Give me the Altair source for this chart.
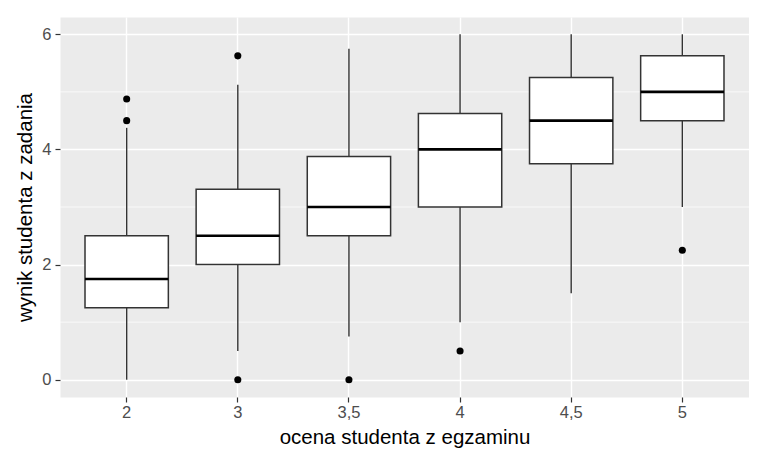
import altair as alt
import pandas as pd

# ---- data ----
categories = ["2", "3", "3,5", "4", "4,5", "5"]
lower = [0.0, 0.5, 0.75, 1.0, 1.5, 3.0]
q1 = [1.25, 2.0, 2.5, 3.0, 3.75, 4.5]
median = [1.75, 2.5, 3.0, 4.0, 4.5, 5.0]
q3 = [2.5, 3.31, 3.875, 4.625, 5.25, 5.625]
upper = [4.375, 5.125, 5.75, 6.0, 6.0, 6.0]

outlier_cat = ["2", "2", "3", "3", "3,5", "4", "5"]
outlier_val = [4.875, 4.5, 5.625, 0.0, 0.0, 0.5, 2.25]

major_ticks = [0, 2, 4, 6]
minor_grid = [1, 3, 5]

boxes = pd.DataFrame({"ocena": categories, "lower": lower, "q1": q1,
                      "median": median, "q3": q3, "upper": upper})
outliers = pd.DataFrame({"ocena": outlier_cat, "wynik": outlier_val})
minor = pd.DataFrame({"g": minor_grid})

FONT = "Liberation Sans"
W, H = 689, 380

x_enc = alt.X("ocena:N", sort=categories,
              scale=alt.Scale(paddingInner=0, paddingOuter=0.1),
              axis=alt.Axis(title="ocena studenta z egzaminu", labelAngle=0,
                            bandPosition=0.5, grid=True, gridColor="white",
                            gridWidth=1.4, tickSize=5, tickColor="#333333",
                            tickWidth=1.2, domain=False, labelPadding=2,
                            labelColor="#4D4D4D", labelFontSize=16.5,
                            titleFontSize=20.5, titleColor="black",
                            titleFontWeight="normal", titleX=W / 2, titleY=46,
                            titleAlign="center", titleBaseline="alphabetic"))

y_scale = alt.Scale(domain=[-0.3, 6.3], nice=False, zero=False)
y_axis = alt.Axis(title="wynik studenta z zadania", values=major_ticks,
                  grid=True, gridColor="white", gridWidth=1.4, tickSize=5,
                  tickColor="#333333", tickWidth=1.2, domain=False,
                  labelPadding=4, labelColor="#4D4D4D", labelFontSize=16.5,
                  titleFontSize=20.5, titleColor="black",
                  titleFontWeight="normal", titleAngle=270, titleX=-29,
                  titleY=H / 2, titleAlign="center",
                  titleBaseline="alphabetic")

minor_layer = alt.Chart(minor).mark_rule(color="white", strokeWidth=0.7).encode(
    y=alt.Y("g:Q", scale=y_scale, axis=y_axis)
)

whiskers = alt.Chart(boxes).mark_rule(color="#333333", strokeWidth=1.4).encode(
    x=x_enc,
    y=alt.Y("lower:Q", scale=y_scale, axis=y_axis),
    y2="upper:Q",
)

box = alt.Chart(boxes).mark_bar(
    fill="white", stroke="#333333", strokeWidth=1.5,
    width=alt.RelativeBandSize(0.75)
).encode(
    x=x_enc,
    y=alt.Y("q1:Q", scale=y_scale, axis=y_axis),
    y2="q3:Q",
)

med = alt.Chart(boxes).mark_tick(
    color="black", thickness=2.6, size=83.3, opacity=1
).encode(
    x=x_enc,
    y=alt.Y("median:Q", scale=y_scale, axis=y_axis),
)

pts = alt.Chart(outliers).mark_circle(color="black", size=50, opacity=1).encode(
    x=x_enc,
    y=alt.Y("wynik:Q", scale=y_scale, axis=y_axis),
)

chart = alt.layer(minor_layer, whiskers, box, med, pts).properties(
    width=W, height=H,
    autosize=alt.AutoSizeParams(type="none"),
    padding={"left": 52, "top": 9, "right": 0, "bottom": 52},
    background="white",
).configure(
    font=FONT,
    view=alt.ViewConfig(fill="#EBEBEB", stroke="transparent"),
)

chart.save("out.html", embed_options={"renderer": "svg", "actions": False})
